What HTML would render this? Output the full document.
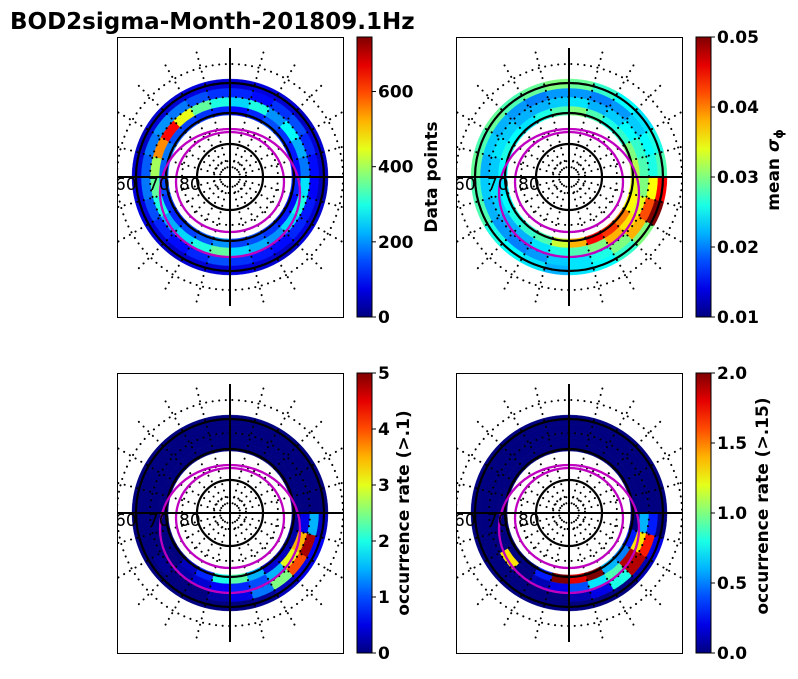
<!DOCTYPE html>
<html><head><meta charset="utf-8"><style>
body{margin:0;background:#fff;width:798px;height:674px;overflow:hidden}
svg{font-family:"DejaVu Sans","Liberation Sans",sans-serif}
</style></head><body>
<svg id="c" width="798" height="674" xmlns="http://www.w3.org/2000/svg">
<text x="10" y="29" font-size="23" font-weight="bold">BOD2sigma-Month-201809.1Hz</text>
</svg>
<script>
// values per sector (24, clockwise from top) for radial bins inner -> outer
const p1Inner=[100,120,150,130,110,100,120,100,110,130,150,140,200,160,140,120,130,150,160,180,150,140,130,120];
const p1Mid=[250,300,200,280,220,180,260,300,250,200,220,250,350,300,250,220,300,350,400,550,650,450,350,300];
const p1Mid2=[120,100,130,150,120,100,90,110,120,100,110,130,150,120,100,120,150,180,160,180,200,180,150,130];
const p1Outer=[60,70,60,50,60,50,40,60,70,50,60,70,60,60,50,60,70,70,60,50,60,60,70,60];
const p2Inner=[0.03,0.028,0.026,0.027,0.03,0.032,0.034,0.035,0.04,0.043,0.045,0.038,0.033,0.028,0.027,0.026,0.025,0.024,0.025,0.026,0.025,0.024,0.026,0.028];
const p2Mid=[0.024,0.022,0.023,0.025,0.027,0.028,0.03,0.034,0.036,0.038,0.03,0.028,0.026,0.024,0.022,0.022,0.023,0.024,0.023,0.024,0.023,0.022,0.022,0.023];
const p2Mid2=[0.021,0.02,0.021,0.023,0.025,0.026,0.035,0.042,0.038,0.03,0.026,0.024,0.023,0.021,0.02,0.021,0.022,0.023,0.022,0.023,0.022,0.021,0.02,0.021];
const p2Outer=[0.029,0.027,0.025,0.024,0.026,0.028,0.045,0.05,0.03,0.027,0.025,0.024,0.022,0.024,0.025,0.026,0.028,0.028,0.029,0.028,0.029,0.028,0.029,0.03];
const p3Inner=[0,0,0,0,0,0,0.1,0.2,0.3,0.4,1.5,2.3,2,0.8,0.3,0,0,0,0,0,0,0,0,0];
const p3Mid=[0,0,0,0,0,0,0.5,3.5,3,1.5,1,0.8,0.6,0.4,0.2,0,0,0,0,0,0,0,0,0];
const p3Mid2=[0,0,0,0,0,0,1.5,4.8,4,2.5,1.2,0.5,0.2,0,0,0.1,0,0,0,0,0,0,0,0];
const p3Outer=[0,0,0,0,0,0,0.3,0.6,0.5,0.3,0.1,0,0,0,0,0,0,0,0,0,0,0,0,0];
const p4Inner=[0,0,0,0,0,0,0,0.3,0.5,0.6,2,1.8,2,0.3,0,0,0,0,0,0,0,0,0,0];
const p4Mid=[0,0,0,0,0,0,0.6,1.3,1.9,0.9,0.7,0.4,0.2,0.1,0,1.3,0,0,0,0,0,0,0,0];
const p4Mid2=[0,0,0,0,0,0,0.3,1.7,1.9,0.8,0.2,0.1,0,0,0,0,0,0,0,0,0,0,0,0];
const p4Outer=[0,0,0,0,0,0,0,0.2,0.1,0,0,0,0,0,0,0,0,0,0,0,0,0,0,0];
const cb1Ticks=[0,200,400,600], cb2Ticks=[0.01,0.02,0.03,0.04,0.05], cb3Ticks=[0,1,2,3,4,5], cb4Ticks=[0,0.5,1.0,1.5,2.0];
const cb2Labels=["0.01","0.02","0.03","0.04","0.05"], cb4Labels=["0.0","0.5","1.0","1.5","2.0"];

const svg=document.getElementById('c');
const NS="http://www.w3.org/2000/svg";
function mk(t,a,p){const e=document.createElementNS(NS,t);for(const k in a)e.setAttribute(k,a[k]);(p||svg).appendChild(e);return e;}
function jet(t){t=Math.max(0,Math.min(1,t));
 const r=Math.max(0,Math.min(1,1.5-Math.abs(4*t-3))),g=Math.max(0,Math.min(1,1.5-Math.abs(4*t-2))),b=Math.max(0,Math.min(1,1.5-Math.abs(4*t-1)));
 return `rgb(${Math.round(r*255)},${Math.round(g*255)},${Math.round(b*255)})`;}
const radii=[62,71,80,89,98];
function panel(idx,bx,by,rows,vmin,vmax,ticks,tlabels){
 const cx=bx+113,cy=by+140;
 const g=mk('g',{});
 
 
 const cp=mk('clipPath',{id:'cp'+idx},g);mk('rect',{x:bx,y:by,width:226,height:280},cp);
 const inner=mk('g',{'clip-path':`url(#cp${idx})`},g);
 rows.forEach((row,ri)=>{
  const r0=radii[ri],r1=radii[ri+1];
  row.forEach((v,si)=>{
   const a0=(si*15-90)*Math.PI/180,a1=((si+1)*15-90)*Math.PI/180;
   const p=`M${cx+r0*Math.cos(a0)},${cy+r0*Math.sin(a0)} L${cx+r1*Math.cos(a0)},${cy+r1*Math.sin(a0)} A${r1},${r1} 0 0 1 ${cx+r1*Math.cos(a1)},${cy+r1*Math.sin(a1)} L${cx+r0*Math.cos(a1)},${cy+r0*Math.sin(a1)} A${r0},${r0} 0 0 0 ${cx+r0*Math.cos(a0)},${cy+r0*Math.sin(a0)}Z`;
   const col=jet((v-vmin)/(vmax-vmin));
   const c=mk('path',{d:p,fill:col,stroke:col,'stroke-width':0.4},inner);
   
   
  });
 });
 const dot={fill:'none',stroke:'#000','stroke-width':2,'stroke-dasharray':'0.1 6.5','stroke-linecap':'round'};
 [16,48,80,113].forEach(r=>mk('circle',Object.assign({cx,cy,r},dot),inner));
 for(let a=15;a<360;a+=15){if(a%90===0)continue;const t=a*Math.PI/180;
  mk('line',Object.assign({x1:cx+10*Math.cos(t),y1:cy+10*Math.sin(t),x2:cx+135*Math.cos(t),y2:cy+135*Math.sin(t)},dot),inner);}
 [33,64,94].forEach(r=>mk('circle',{cx,cy,r,fill:'none',stroke:'#000','stroke-width':2.2},inner));
 mk('ellipse',{cx,cy:cy+16,rx:70,ry:64,fill:'none',stroke:'#c000c0','stroke-width':2.3},inner);
 mk('ellipse',{cx,cy:cy+5,rx:54,ry:50,fill:'none',stroke:'#c000c0','stroke-width':2.3},inner);
 mk('line',{x1:bx,y1:cy,x2:bx+226,y2:cy,stroke:'#000','stroke-width':2},inner);
 mk('line',{x1:cx,y1:cy-129,x2:cx,y2:cy+129,stroke:'#000','stroke-width':2},inner);
 [['60',bx-2],['70',bx+31],['80',bx+62]].forEach(([s,x])=>{const t=mk('text',{x,y:cy+13,'font-size':17},inner);t.textContent=s;});
 mk('rect',{x:bx+0.5,y:by+0.5,width:226,height:280,fill:'none',stroke:'#000','stroke-width':1},g);
 const cbx=bx+240;
 const gid='grad'+idx;const lg=mk('linearGradient',{id:gid,x1:0,y1:1,x2:0,y2:0},g);
 for(let i=0;i<=10;i++)mk('stop',{offset:i/10,'stop-color':jet(i/10)},lg);
 const cb=mk('rect',{x:cbx,y:by,width:15,height:280,fill:`url(#${gid})`,stroke:'#000','stroke-width':1},g);
 
 
 ticks.forEach((tv,i)=>{const y=by+280-(tv-vmin)/(vmax-vmin)*280;
  mk('line',{x1:cbx+15,y1:y,x2:cbx+19,y2:y,stroke:'#000','stroke-width':1},g);
  const t=mk('text',{x:cbx+21,y:y+6,'font-size':17,'font-weight':'bold'},g);t.textContent=tlabels?tlabels[i]:String(tv);
  });
}
panel(1,117,37,[p1Inner,p1Mid,p1Mid2,p1Outer],0,745,cb1Ticks,null);
panel(2,456,37,[p2Inner,p2Mid,p2Mid2,p2Outer],0.01,0.05,cb2Ticks,cb2Labels);
panel(3,117,373,[p3Inner,p3Mid,p3Mid2,p3Outer],0,5,cb3Ticks,null);
panel(4,456,373,[p4Inner,p4Mid,p4Mid2,p4Outer],0,2,cb4Ticks,cb4Labels);
function vlab(x,y,html,name){const t=mk('text',{x,y,'font-size':17,'font-weight':'bold','text-anchor':'middle',transform:`rotate(-90 ${x} ${y})`});t.innerHTML=html;}
vlab(437,177,'Data points','colorbar-label-1');
vlab(779,170,'mean <tspan font-style="italic">σ</tspan><tspan font-size="12" dy="4">ϕ</tspan>','colorbar-label-2');
vlab(409,513,'occurrence rate (&gt;.1)','colorbar-label-3');
vlab(768,506,'occurrence rate (&gt;.15)','colorbar-label-4');
</script>
</body></html>
